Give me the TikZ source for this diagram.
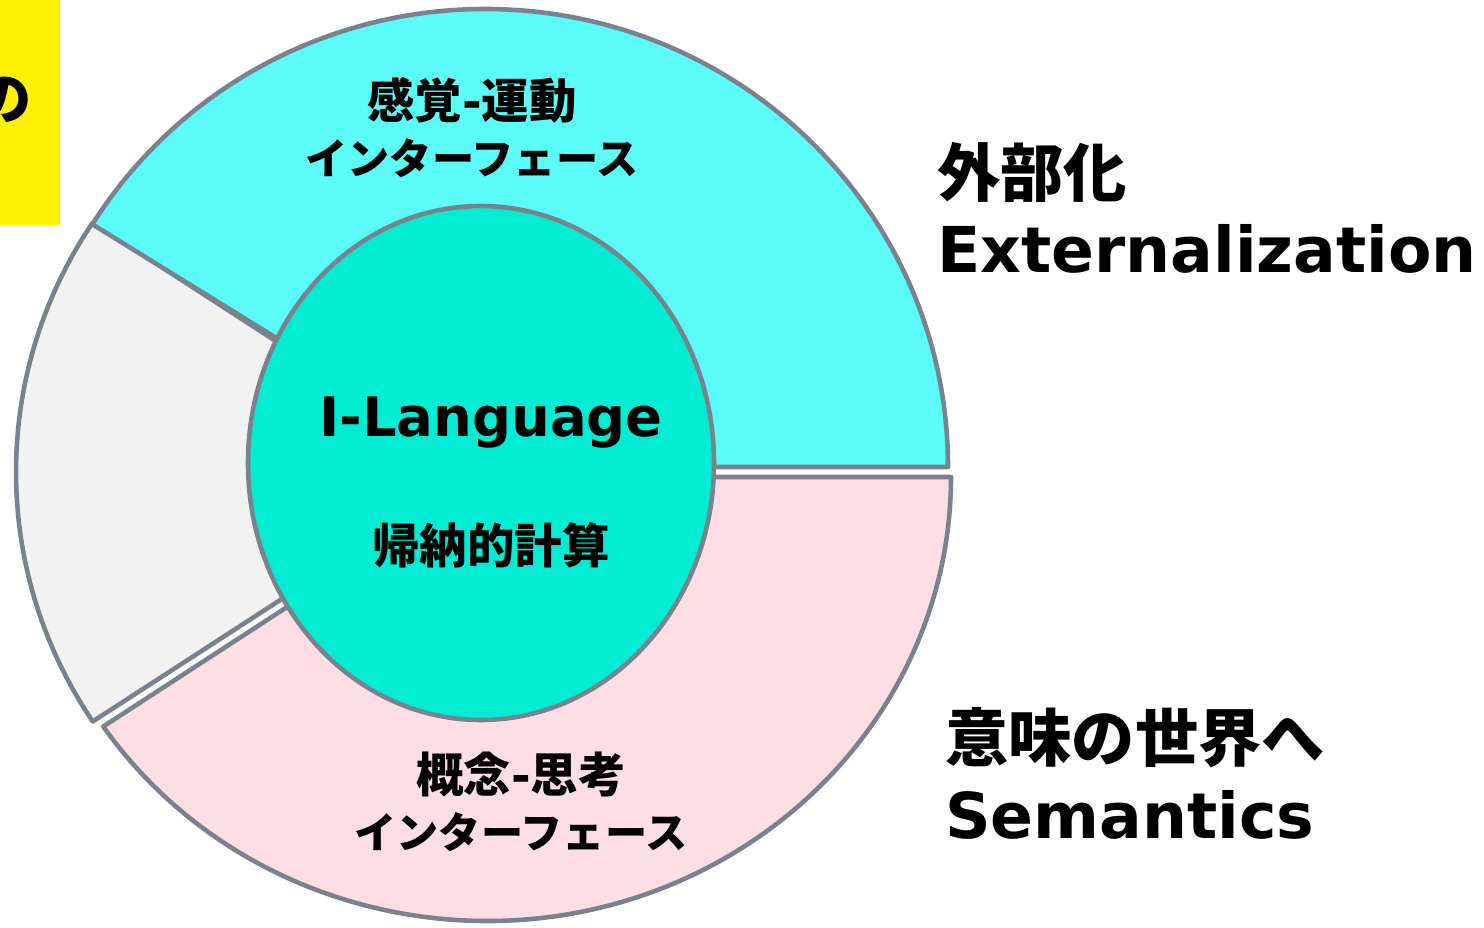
\documentclass[tikz,border=0pt]{standalone}
\usepackage{fontspec}
\setmainfont{DejaVu Sans}
\newfontfamily\jp{Noto Sans CJK JP}
\definecolor{edge}{RGB}{122,131,141}
\definecolor{sensor}{RGB}{91,251,248}
\definecolor{core}{RGB}{0,237,212}
\definecolor{other}{RGB}{242,242,242}
\definecolor{concept}{RGB}{253,222,228}
\begin{document}
\begin{tikzpicture}[x=0.02cm, y=0.02cm, line join=round,
    part/.style={draw=edge, line width=2.6pt},
    big/.style={font=\bfseries\fontsize{36}{40}\selectfont, inner sep=0pt},
    bigjp/.style={font=\jp\bfseries\fontsize{36}{40}\selectfont, inner sep=0pt},
    band/.style={font=\jp\bfseries\fontsize{24}{33}\selectfont, inner sep=0pt}]
    \useasboundingbox (0,0) rectangle (1484,927);
    \clip (0,0) rectangle (1484,927);
    % yellow note, cut off at the left edge
    \fill[yellow] (-200,702) rectangle (60,927);
    \node[font=\jp\fontsize{32}{32}\selectfont, font=\jp\bfseries\fontsize{32}{32}\selectfont] (note) at (4,827) {の};
    % doughnut
    \draw[part, fill=other] (478,455) -- ++(146.5:462 and 452)
        arc[start angle=146.5, end angle=213.5, x radius=462, y radius=452] -- cycle;
    \draw[part, fill=concept] (487,450) -- ++(214.2:464 and 444)
        arc[start angle=214.2, end angle=360, x radius=464, y radius=444] -- cycle;
    \draw[part, fill=sensor] (485,460) -- ++(0:463 and 458)
        arc[start angle=0, end angle=148, x radius=463, y radius=458] -- cycle;
    \draw[part, fill=core] (481,464) ellipse[x radius=233, y radius=257];
    % labels
    \node[band, font=\jp\bfseries\fontsize{27}{30}\selectfont] (smi) at (472,827) {感覚\textrm{-}運動};
    \node[band] (smi2) at (472,769) {インターフェース};
    \node[band, font=\jp\bfseries\fontsize{27}{30}\selectfont] (cii) at (521,152) {概念\textrm{-}思考};
    \node[band] (cii2) at (521,95) {インターフェース};
    \node[font=\bfseries\fontsize{31}{36}\selectfont, anchor=base] (ilang) at (491,490) {I-Language};
    \node[font=\jp\bfseries\fontsize{27}{30}\selectfont] (induct) at (491,382) {帰納的計算};
    \node[bigjp, anchor=west] (extjp) at (937,755) {外部化};
    \node[big, anchor=base west] (ext) at (937,654) {Externalization};
    \node[bigjp, anchor=west] (semjp) at (945,189) {意味の世界へ};
    \node[big, anchor=base west] (sem) at (945,89) {Semantics};
\end{tikzpicture}
\end{document}
